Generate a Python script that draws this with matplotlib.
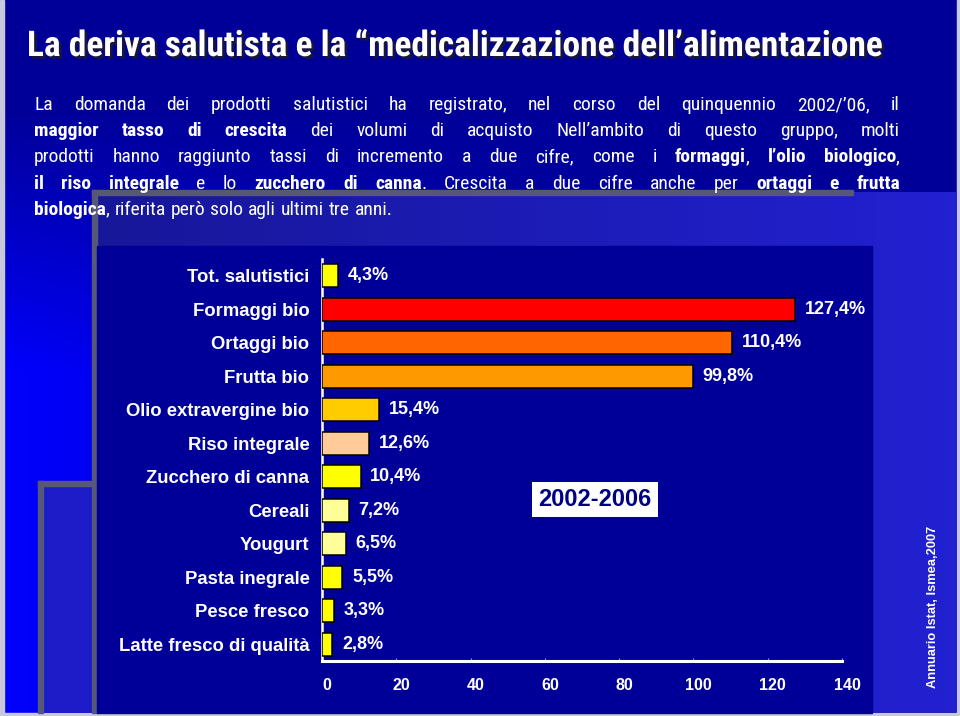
import numpy as np
import matplotlib
matplotlib.use("Agg")
import matplotlib.pyplot as plt
import matplotlib.patheffects as pe
from matplotlib import font_manager
from matplotlib.patches import Rectangle

# Data
categories = ["Tot. salutistici", "Formaggi bio", "Ortaggi bio", "Frutta bio",
              "Olio extravergine bio", "Riso integrale", "Zucchero di canna",
              "Cereali", "Yougurt", "Pasta inegrale", "Pesce fresco",
              "Latte fresco di qualità"]
values = [4.3, 127.4, 110.4, 99.8, 15.4, 12.6, 10.4, 7.2, 6.5, 5.5, 3.3, 2.8]
bar_colors = ["#FFFF00", "#FF0000", "#FF6600", "#FF9900", "#FFCC00", "#FFCC99",
              "#FFFF00", "#FFFF99", "#FFFF99", "#FFFF00", "#FFFF00", "#FFFF00"]
xticks = [0, 20, 40, 60, 80, 100, 120, 140]

title = "La deriva salutista e la \u201cmedicalizzazione dell\u2019alimentazione"
body = [
    "La domanda dei prodotti salutistici ha registrato, nel corso del quinquennio 2002/\u201906, il",
    "**maggior tasso di crescita** dei volumi di acquisto Nell\u2019ambito di questo gruppo, molti",
    "prodotti hanno raggiunto tassi di incremento a due cifre, come i **formaggi**, **l\u2019olio biologico**,",
    "**il riso integrale** e lo **zucchero di canna**. Crescita a due cifre anche per **ortaggi e frutta**",
    "**biologica**, riferita però solo agli ultimi tre anni.",
]
period = "2002-2006"
source = "Annuario Istat, Ismea,2007"

# pick a narrow font (slide uses Arial Narrow)
names = {}
for f in font_manager.fontManager.ttflist:
    names.setdefault(f.name, set()).add(f.weight)
narrow = "Liberation Sans"
for cand in ["Arial Narrow", "Liberation Sans Narrow", "Roboto Condensed", "Archivo Narrow",
             "Encode Sans Condensed", "IBM Plex Sans Condensed"]:
    if cand in names and len(names[cand]) > 1:
        narrow = cand
        break
sans = "Arimo" if "Arimo" in names else "Liberation Sans"

W, H = 960, 716
fig = plt.figure(figsize=(W / 100, H / 100), dpi=100)

# background axes in pixel units
bg = fig.add_axes([0, 0, 1, 1])
bg.set_xlim(0, W)
bg.set_ylim(H, 0)
bg.axis("off")

navy = np.array([0.0, 0.0, 0.60])
bright = np.array([0.0, 0.0, 1.0])
yy, xx = np.mgrid[0:H:4, 0:W:4]
t = np.clip((yy - 110) / 260, 0, 1) * np.clip(1 - xx / 650, 0, 1)
img = navy + (bright - navy) * t[..., None]
bg.imshow(img, extent=(0, W, H, 0), aspect="auto", interpolation="bilinear", zorder=0)

# slide border lines
bg.add_patch(Rectangle((0, 0), 4, H, color="#c8c8dc", zorder=1))
bg.add_patch(Rectangle((0, 713), W, 3, color="#c8c8dc", zorder=1))
bg.add_patch(Rectangle((957, 0), 3, H, color="#c8c8dc", zorder=1))

# box A (lighter blue frame behind chart)
grad = np.linspace(0, 1, 200)
c0 = np.array([0.09, 0.09, 0.60])
c1 = np.array([0.13, 0.13, 0.82])
boxa = c0 + (c1 - c0) * grad[None, :, None]
boxa = np.repeat(boxa, 4, axis=0)
bg.imshow(boxa, extent=(92, 957, 712, 192), aspect="auto", zorder=2)
gray = "#575778"
bg.add_patch(Rectangle((92, 190), 761, 5, color=gray, zorder=3))
bg.add_patch(Rectangle((92, 190), 5, 523, color=gray, zorder=3))

# box B (small frame at bottom left)
bg.add_patch(Rectangle((38, 481), 56, 232, facecolor="#1c1cc8", edgecolor="none", zorder=2))
bg.add_patch(Rectangle((38, 481), 56, 5, color=gray, zorder=3))
bg.add_patch(Rectangle((38, 481), 5, 232, color=gray, zorder=3))

# navy chart panel
bg.add_patch(Rectangle((97, 246), 775, 467, color="#000099", zorder=4))

renderer = fig.canvas.get_renderer()

# title, fitted to the reference width
tt = bg.text(27, 56, title, fontsize=22, fontweight="bold", family=narrow,
             color="white", va="baseline", ha="left", zorder=6,
             path_effects=[pe.SimplePatchShadow(offset=(2, -2), shadow_rgbFace="#1a1a33", alpha=0.9),
                           pe.Normal()])
tw = tt.get_window_extent(renderer).width
tt.set_fontsize(min(22 * 898 / tw, 25.5))


def parse(line):
    words = [[]]
    for i, chunk in enumerate(line.split("**")):
        b = i % 2 == 1
        for j, p in enumerate(chunk.split(" ")):
            if j > 0:
                words.append([])
            if p:
                words[-1].append((p, b))
    return [w for w in words if w]


x0, x1 = 34, 900
fs = 14


def measure(fs):
    rows = []
    for line in body:
        row = []
        for word in parse(line):
            pieces = []
            for p, b in word:
                tx = bg.text(0, 0, p, fontsize=fs, family=narrow, color="white",
                             fontweight="bold" if b else "normal", va="baseline", zorder=6)
                pieces.append((tx, tx.get_window_extent(renderer).width))
            row.append(pieces)
        rows.append(row)
    return rows


rows = measure(fs)
space = 0.25 * fs * 100 / 72
natural = max(sum(w for wd in r for _, w in wd) + space * (len(r) - 1) for r in rows)
if natural > (x1 - x0) * 0.98:
    for r in rows:
        for wd in r:
            for tx, _ in wd:
                tx.remove()
    fs = fs * (x1 - x0) * 0.97 / natural
    rows = measure(fs)
    space = 0.25 * fs * 100 / 72

for i, r in enumerate(rows):
    y = 110 + 26.2 * i
    total = sum(w for wd in r for _, w in wd)
    if i < len(rows) - 1:
        gap = (x1 - x0 - total) / (len(r) - 1)
    else:
        gap = space
    x = x0
    for wd in r:
        for tx, w in wd:
            tx.set_position((x, y))
            x += w
        x += gap

# chart
ax = fig.add_axes([322 / W, 55 / H, 520 / W, 402 / H])
ax.set_facecolor("none")
ax.set_zorder(2)
ypos = np.arange(len(categories))
ax.barh(ypos, values, height=0.69, color=bar_colors, edgecolor="black", linewidth=1.1, zorder=3)
ax.set_xlim(0, 140)
ax.set_ylim(len(categories) - 0.5, -0.5)
ax.set_yticks(ypos)
ax.set_yticklabels(categories, fontsize=13.3, fontweight="bold", color="white", family=sans)
ax.tick_params(axis="y", length=0, pad=9)
ax.set_xticks(xticks)
ax.set_xticklabels([str(v) for v in xticks], fontsize=11.5, fontweight="bold", color="white", family=sans)
ax.tick_params(axis="x", length=2, direction="in", color="#9999bb", pad=12)
shift = matplotlib.transforms.ScaledTranslation(5 / 100, 0, fig.dpi_scale_trans)
for lab in ax.get_xticklabels():
    lab.set_transform(lab.get_transform() + shift)
for side in ["top", "right"]:
    ax.spines[side].set_visible(False)
ax.spines["left"].set_color("white")
ax.spines["left"].set_linewidth(1.8)
ax.spines["bottom"].set_color("white")
ax.spines["bottom"].set_linewidth(2.2)

for yv, v in zip(ypos, values):
    ax.annotate(f"{v:.1f}%".replace(".", ","), (v, yv), xytext=(7, 0), textcoords="offset points",
                ha="left", va="center", fontsize=13, fontweight="bold", color="white", family=sans)

ax.text(73.5, 6.68, period, ha="center", va="center", fontsize=17, fontweight="bold",
        color="#000080", family=sans,
        bbox=dict(boxstyle="square,pad=0.25", facecolor="white", edgecolor="none"))

bg.text(933, 607, source, rotation=90, ha="center", va="center", fontsize=9.3,
        fontweight="bold", color="white", family=sans, zorder=6)

fig.savefig("out.png", dpi=100)
